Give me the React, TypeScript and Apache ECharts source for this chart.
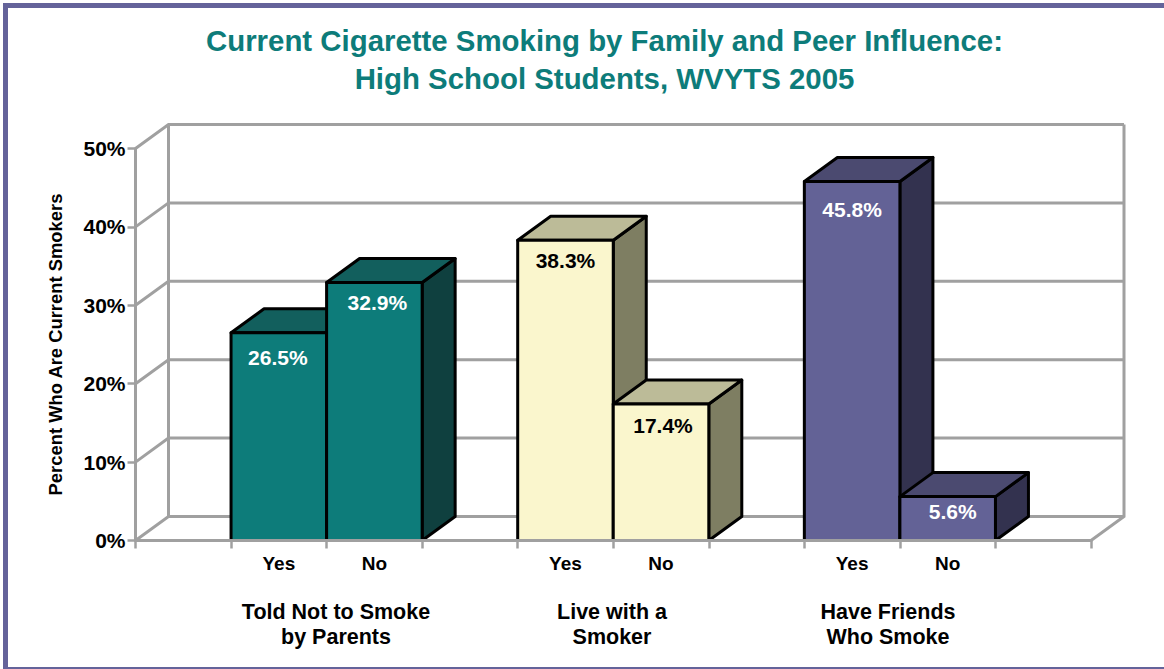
import React, { useEffect, useRef } from "react";
import * as echarts from "echarts";

const categories = ["", "Yes", "No", "", "Yes", "No", "", "Yes", "No", ""];
const smokingRates = [null, 26.5, 32.9, null, 38.3, 17.4, null, 45.8, 5.6, null];
const valueLabels = ["", "26.5%", "32.9%", "", "38.3%", "17.4%", "", "45.8%", "5.6%", ""];
const percentTicks = [0, 10, 20, 30, 40, 50];
const groupNames = ["Told Not to Smoke\nby Parents", "Live with a\nSmoker", "Have Friends\nWho Smoke"];
const titleLines = "Current Cigarette Smoking by Family and Peer Influence:\nHigh School Students, WVYTS 2005";

// front, top, side shades and label colour for each category slot
const TEAL = { front: "#0d7c7a", top: "#125f5d", side: "#0f403f", text: "#ffffff" };
const CREAM = { front: "#faf6cd", top: "#bcbb98", side: "#7e7e62", text: "#000000" };
const PURPLE = { front: "#636296", top: "#4b4a70", side: "#33324f", text: "#ffffff" };
const barShades = [null, TEAL, TEAL, null, CREAM, CREAM, null, PURPLE, PURPLE, null];

// hand placement of each value label: [dx from bar centre, dy below bar top]
const labelOffsets = [null, [-1, 25], [3, 20], null, [0, 20], [2, 21], null, [0, 28], [5, 15], null];
const groupLabelCentres = [336, 612, 888];

const FONT = '"Liberation Sans", Arial, sans-serif';
const WALL = "#a0a0a0";
const DEPTH_X = 33;
const DEPTH_Y = 24;

function renderWalls(params: any, api: any) {
  const cs = params.coordSys;
  const left = cs.x;
  const right = cs.x + cs.width;
  const yTop = api.coord([0, 50])[1];
  const yZero = api.coord([0, 0])[1];
  const line = { stroke: WALL, lineWidth: 3, fill: "none" };
  const rail = (points: number[][]) => ({ type: "polyline", shape: { points }, style: line });
  const children: any[] = percentTicks.map((v) => {
    const y = api.coord([0, v])[1];
    return rail([
      [left, y],
      [left + DEPTH_X, y - DEPTH_Y],
      [right + DEPTH_X, y - DEPTH_Y],
    ]);
  });
  children.push(rail([[left + DEPTH_X, yTop - DEPTH_Y], [left + DEPTH_X, yZero - DEPTH_Y]]));
  children.push(rail([[right + DEPTH_X, yTop - DEPTH_Y], [right + DEPTH_X, yZero - DEPTH_Y], [right, yZero]]));
  return { type: "group", children };
}

function renderBar(params: any, api: any) {
  const slot = api.value(0);
  const value = api.value(1);
  const shade = barShades[slot];
  const [cx, yTop] = api.coord([slot, value]);
  const yBase = api.coord([slot, 0])[1];
  const w = api.size([1, 0])[0];
  const x0 = cx - w / 2;
  const x1 = cx + w / 2;
  const edge = { stroke: "#000000", lineWidth: 3, lineJoin: "round" };
  const [nudgeX, nudgeY] = labelOffsets[slot];
  return {
    type: "group",
    children: [
      {
        type: "polygon",
        shape: { points: [[x1, yTop], [x1 + DEPTH_X, yTop - DEPTH_Y], [x1 + DEPTH_X, yBase - DEPTH_Y], [x1, yBase]] },
        style: { fill: shade.side, ...edge },
      },
      {
        type: "polygon",
        shape: { points: [[x0, yTop], [x0 + DEPTH_X, yTop - DEPTH_Y], [x1 + DEPTH_X, yTop - DEPTH_Y], [x1, yTop]] },
        style: { fill: shade.top, ...edge },
      },
      {
        type: "rect",
        shape: { x: x0, y: yTop, width: w, height: yBase - yTop },
        style: { fill: shade.front, ...edge },
      },
      {
        type: "text",
        style: {
          text: valueLabels[slot],
          x: cx + nudgeX,
          y: yTop + nudgeY,
          fill: shade.text,
          fontFamily: FONT,
          fontWeight: "bold",
          fontSize: 21,
          align: "center",
          verticalAlign: "middle",
        },
      },
    ],
  };
}

export default function App() {
  const ref = useRef<HTMLDivElement>(null);

  useEffect(() => {
    const chart = echarts.init(ref.current!, null, { renderer: "svg" });
    const barData = smokingRates
      .map((v, i) => [i, v])
      .filter((d) => d[1] !== null);

    chart.setOption({
      animation: false,
      backgroundColor: "#ffffff",
      title: {
        text: titleLines,
        left: 604.5,
        top: 21,
        padding: 0,
        textAlign: "center",
        textStyle: {
          color: "#0d7c7a",
          fontFamily: FONT,
          fontWeight: "bold",
          fontSize: 29.4,
          lineHeight: 38,
        },
      },
      grid: { left: 135.5, right: 73, top: 148.5, bottom: 128.5 },
      xAxis: {
        type: "category",
        data: categories,
        z: 6,
        boundaryGap: true,
        axisLine: { lineStyle: { color: WALL, width: 3 } },
        axisTick: { show: true, interval: 0, length: 8, lineStyle: { color: WALL, width: 2.5 } },
        axisLabel: {
          interval: 0,
          margin: 9,
          color: "#000000",
          fontFamily: FONT,
          fontWeight: "bold",
          fontSize: 19,
          lineHeight: 28,
        },
      },
      yAxis: {
        type: "value",
        min: 0,
        max: 50,
        interval: 10,
        z: 6,
        name: "Percent Who Are Current Smokers",
        nameLocation: "middle",
        nameGap: 71,
        nameRotate: 90,
        nameTextStyle: { color: "#000000", fontFamily: FONT, fontWeight: "bold", fontSize: 18.4 },
        splitLine: { show: false },
        axisLine: { show: true, lineStyle: { color: WALL, width: 3 } },
        axisTick: { show: true, length: 8, lineStyle: { color: WALL, width: 2.5 } },
        axisLabel: {
          formatter: "{value}%",
          margin: 10,
          color: "#000000",
          fontFamily: FONT,
          fontWeight: "bold",
          fontSize: 21,
        },
      },
      graphic: [
        {
          type: "rect",
          silent: true,
          shape: { x: 5.5, y: 5.5, width: 1164, height: 664 },
          style: { fill: "none", stroke: "#64639a", lineWidth: 5 },
        },
        ...groupNames.map((name, i) => ({
          type: "text",
          silent: true,
          x: groupLabelCentres[i],
          y: 624,
          style: {
            text: name,
            fill: "#000000",
            fontFamily: FONT,
            fontWeight: "bold",
            fontSize: 21.5,
            lineHeight: 25,
            align: "center",
            verticalAlign: "middle",
          },
        })),
      ],
      series: [
        {
          type: "custom",
          name: "Walls",
          coordinateSystem: "cartesian2d",
          clip: false,
          z: 1,
          silent: true,
          data: [[0, 0]],
          renderItem: renderWalls,
        },
        {
          type: "custom",
          name: "Current smokers",
          coordinateSystem: "cartesian2d",
          clip: false,
          z: 2,
          silent: true,
          data: barData,
          encode: { x: 0, y: 1 },
          renderItem: renderBar,
        },
      ],
    });
    return () => chart.dispose();
  }, []);

  return <div ref={ref} style={{ position: "absolute", left: 0, top: 0, width: 1164, height: 669 }} />;
}
